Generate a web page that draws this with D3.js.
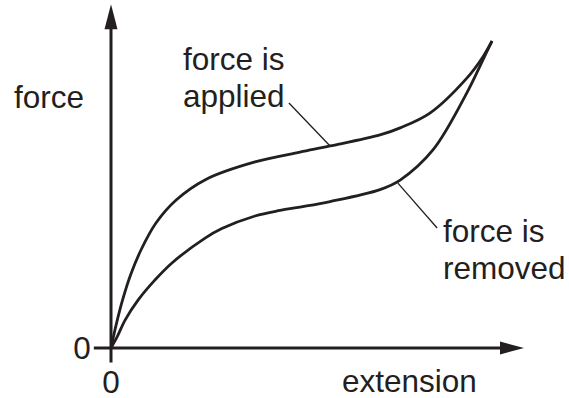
<!DOCTYPE html>
<html>
<head>
<meta charset="utf-8">
<script src="https://cdn.jsdelivr.net/npm/d3@7"></script>
<style>
html,body{margin:0;padding:0;background:#fff;}
svg text{font-family:"Liberation Sans",Arial,Helvetica,sans-serif;font-size:31.5px;fill:#231f20;}
</style>
</head>
<body>
<svg id="chart" width="569" height="398"></svg>
<script>
// extension (x) and force (y) in arbitrary units
const appliedX = [0, 0.13, 0.31, 0.52, 0.79, 1.18, 1.71, 2.49, 3.78, 4.96, 5.75, 7.06, 7.59, 8.37, 9.34, 9.76, 10];
const appliedY = [0, 0.73, 1.59, 2.40, 3.20, 4.07, 4.82, 5.49, 6.06, 6.38, 6.58, 6.94, 7.17, 7.65, 8.79, 9.48, 10];
const removedX = [0, 0.16, 0.37, 0.71, 1.15, 1.60, 2.47, 2.91, 3.78, 4.44, 4.96, 5.75, 7.06, 7.59, 8.45, 9.34, 9.76, 10];
const removedY = [0, 0.36, 0.91, 1.56, 2.21, 2.77, 3.58, 3.89, 4.30, 4.48, 4.59, 4.77, 5.16, 5.47, 6.45, 8.31, 9.38, 10];
const tickLabels = ["0"];
const axisTitles = ["extension", "force"];
const curveLabels = [["force is", "applied"], ["force is", "removed"]];
// leader lines: [x1, y1, x2, y2] in data units
const appliedLeader = [4.67, 7.98, 5.75, 6.58];
const removedLeader = [7.53, 5.37, 8.56, 3.91];

const svg = d3.select("#chart");
const ink = "#231f20";
const x = d3.scaleLinear().domain([0, 10]).range([111, 492]);
const y = d3.scaleLinear().domain([0, 10]).range([348, 41]);

// axes
const xEnd = x(10.84), yEnd = y(11.2);
svg.append("line").attr("x1", x(-0.45)).attr("x2", xEnd - 20).attr("y1", y(0)).attr("y2", y(0))
  .attr("stroke", ink).attr("stroke-width", 3);
svg.append("line").attr("x1", x(0)).attr("x2", x(0)).attr("y1", y(-0.47)).attr("y2", yEnd + 20)
  .attr("stroke", ink).attr("stroke-width", 3);
// arrowheads
svg.append("path").attr("d", `M${xEnd},${y(0)} L${xEnd-24},${y(0)-6.5} L${xEnd-24},${y(0)+6.5} Z`).attr("fill", ink);
svg.append("path").attr("d", `M${x(0)},${yEnd} L${x(0)-6.5},${yEnd+25} L${x(0)+6.5},${yEnd+25} Z`).attr("fill", ink);

// tick labels
svg.append("text").attr("x", x(0) - 29).attr("y", y(0) + 11).attr("text-anchor", "middle").text(tickLabels[0]);
svg.append("text").attr("x", x(0)).attr("y", y(0) + 45).attr("text-anchor", "middle").text(tickLabels[0]);
// axis titles
svg.append("text").attr("x", 342).attr("y", 392).text(axisTitles[0]);
svg.append("text").attr("x", 14).attr("y", 108).text(axisTitles[1]);

// curves
const line = d3.line().x(d => x(d[0])).y(d => y(d[1])).curve(d3.curveCatmullRom.alpha(0.5));
const applied = appliedX.map((v, i) => [v, appliedY[i]]);
const removed = removedX.map((v, i) => [v, removedY[i]]);
[applied, removed].forEach(data => {
  svg.append("path").datum(data).attr("d", line).attr("fill", "none")
    .attr("stroke", ink).attr("stroke-width", 2.8).attr("stroke-linejoin", "round");
});

// leader lines
[appliedLeader, removedLeader].forEach(l => {
  svg.append("line").attr("x1", x(l[0])).attr("y1", y(l[1])).attr("x2", x(l[2])).attr("y2", y(l[3]))
    .attr("stroke", ink).attr("stroke-width", 1.3);
});

// curve labels
const labelPos = [[183, 70], [443, 242]];
curveLabels.forEach((lines, i) => {
  lines.forEach((t, j) => {
    svg.append("text").attr("x", labelPos[i][0]).attr("y", labelPos[i][1] + j * 36.5).text(t);
  });
});
</script>
</body>
</html>
